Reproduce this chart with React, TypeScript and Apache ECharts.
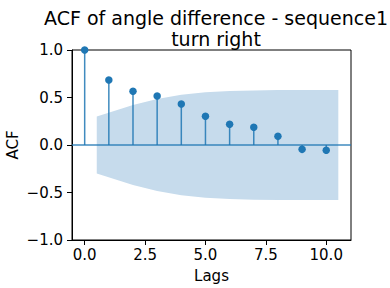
import React, { useEffect, useRef } from "react";
import * as echarts from "echarts";

const lags = [0, 1, 2, 3, 4, 5, 6, 7, 8, 9, 10];
const acfValues = [1.0, 0.684, 0.565, 0.516, 0.432, 0.302, 0.218, 0.186, 0.091, -0.046, -0.056];
const bandX = [0.5, 2, 3, 4, 5, 6, 7, 8, 9, 10.5];
const bandHalf = [0.3, 0.42, 0.485, 0.53, 0.555, 0.568, 0.575, 0.578, 0.58, 0.58];
const xTicks = [0, 2.5, 5, 7.5, 10];
const yTicks = [-1, -0.5, 0, 0.5, 1];

const C0 = "#1f77b4";
const FONT = "DejaVu Sans";

const fmt = (v: number) => (v < 0 ? "\u2212" : "") + Math.abs(v).toFixed(1);

export default function App() {
  const ref = useRef<HTMLDivElement>(null);
  useEffect(() => {
    if (!ref.current) return;
    const chart = echarts.init(ref.current, undefined, { renderer: "svg" });
    chart.setOption({
      animation: false,
      backgroundColor: "#ffffff",
      title: {
        text: "ACF of angle difference - sequence1\nturn right",
        left: 211,
        top: 2,
        textAlign: "center",
        textStyle: {
          fontFamily: FONT,
          fontSize: 19,
          fontWeight: "normal",
          color: "#000",
          lineHeight: 21,
        },
      },
      grid: {
        left: 72,
        top: 50,
        width: 279,
        height: 190,
        show: true,
        borderColor: "#000",
        borderWidth: 1,
        backgroundColor: "transparent",
        containLabel: false,
        outerBoundsMode: "none",
      },
      xAxis: {
        type: "value",
        min: -0.525,
        max: 11.025,
        name: "Lags",
        nameLocation: "middle",
        nameGap: 28,
        nameMoveOverlap: false,
        nameTextStyle: { fontFamily: FONT, fontSize: 15, color: "#000" },
        axisLine: { show: true, onZero: false, lineStyle: { color: "#000", width: 1 } },
        axisTick: { show: true, length: 5, customValues: xTicks, lineStyle: { color: "#000" } },
        axisLabel: {
          customValues: xTicks,
          formatter: fmt,
          fontFamily: FONT,
          fontSize: 15,
          color: "#000",
          margin: 7,
        },
        splitLine: { show: false },
      },
      yAxis: {
        type: "value",
        min: -1,
        max: 1,
        interval: 0.5,
        name: "ACF",
        nameLocation: "middle",
        nameGap: 52,
        nameMoveOverlap: false,
        nameTextStyle: { fontFamily: FONT, fontSize: 15, color: "#000" },
        axisLine: { show: true, onZero: false, lineStyle: { color: "#000", width: 1 } },
        axisTick: { show: true, length: 5, lineStyle: { color: "#000" } },
        axisLabel: {
          customValues: yTicks,
          formatter: fmt,
          fontFamily: FONT,
          fontSize: 15,
          color: "#000",
          margin: 9,
        },
        splitLine: { show: false },
      },
      series: [
        {
          type: "custom",
          z: 1,
          silent: true,
          data: [[0, 0]],
          encode: { x: 0, y: 1 },
          renderItem: (params: any, api: any) => {
            const upper = bandX.map((x, i) => api.coord([x, bandHalf[i]]));
            const lower = bandX
              .map((x, i) => api.coord([x, -bandHalf[i]]))
              .reverse();
            return {
              type: "polygon",
              shape: { points: upper.concat(lower) },
              style: { fill: "#c6dbec" },
            };
          },
        },
        {
          type: "custom",
          z: 2,
          silent: true,
          data: lags.map((l, i) => [l, acfValues[i]]),
          encode: { x: 0, y: 1 },
          renderItem: (params: any, api: any) => {
            const p0 = api.coord([api.value(0), 0]);
            const p1 = api.coord([api.value(0), api.value(1)]);
            return {
              type: "line",
              shape: { x1: p0[0], y1: p0[1], x2: p1[0], y2: p1[1] },
              style: { stroke: C0, lineWidth: 1.5, opacity: 0.85 },
            };
          },
          markLine: {
            silent: true,
            symbol: "none",
            label: { show: false },
            lineStyle: { color: C0, width: 1.6, type: "solid", opacity: 0.85 },
            data: [{ yAxis: 0 }],
          },
        },
        {
          type: "scatter",
          z: 3,
          silent: true,
          symbol: "circle",
          symbolSize: 7.5,
          itemStyle: { color: C0, opacity: 1 },
          data: lags.map((l, i) => [l, acfValues[i]]),
        },
      ],
    });
    return () => chart.dispose();
  }, []);
  return (
    <div
      ref={ref}
      style={{ position: "absolute", left: 0, top: 0, width: 390, height: 288 }}
    />
  );
}
